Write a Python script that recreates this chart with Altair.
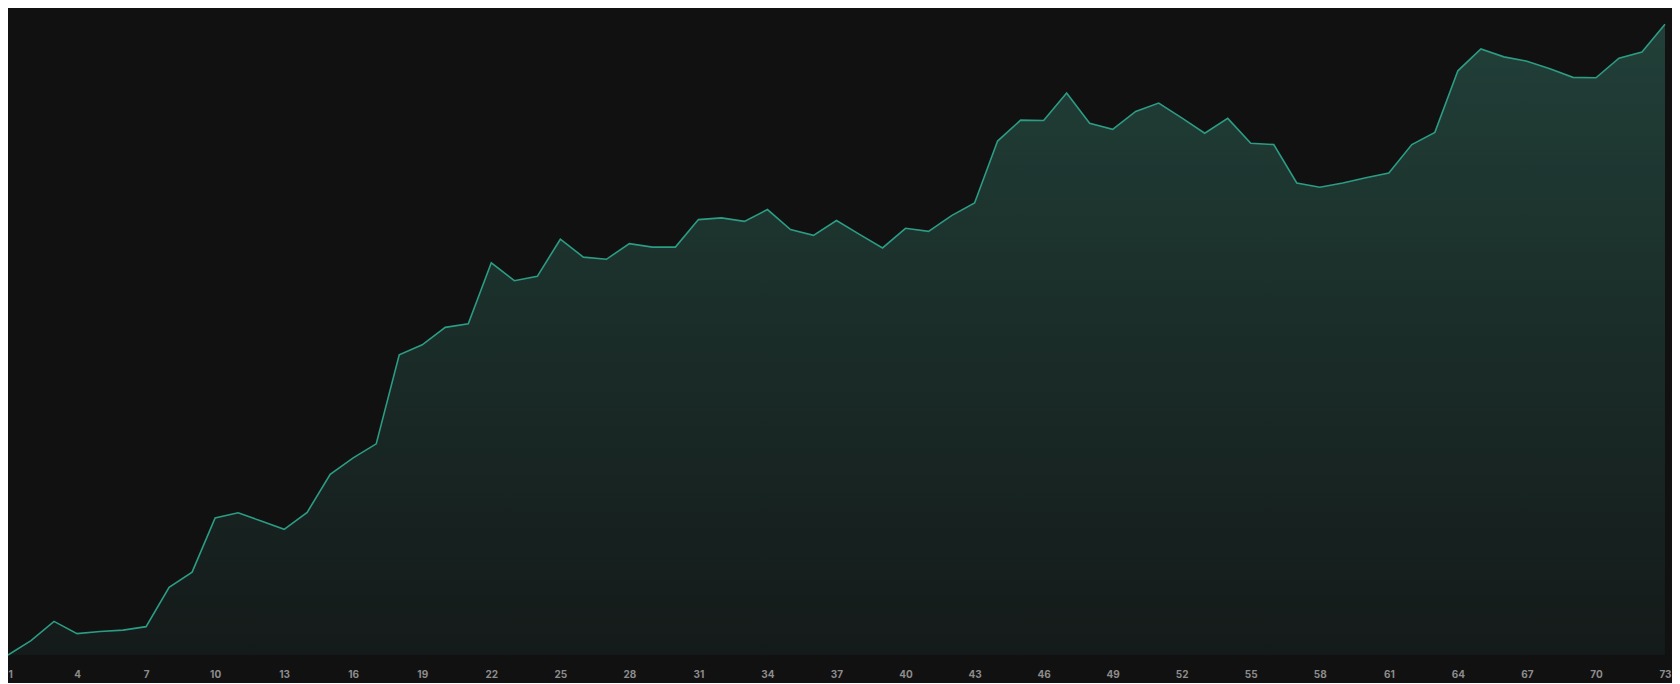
import altair as alt
import pandas as pd

steps = list(range(1, 74))
values = [
    0.0, 3.3, 7.7, 4.9, 5.4, 5.7, 6.5, 15.5, 19.0, 31.4,
    32.6, 30.7, 28.8, 32.7, 41.4, 45.2, 48.4, 68.8, 71.1, 75.1,
    75.9, 89.9, 85.8, 86.8, 95.3, 91.2, 90.7, 94.3, 93.5, 93.5,
    99.8, 100.2, 99.4, 102.1, 97.5, 96.2, 99.6, 96.4, 93.3, 97.8,
    97.1, 100.7, 103.6, 117.8, 122.6, 122.5, 128.8, 121.9, 120.5, 124.6,
    126.5, 123.1, 119.6, 123.0, 117.3, 117.0, 108.2, 107.2, 108.2, 109.4,
    110.5, 117.0, 119.8, 133.9, 138.9, 137.1, 136.1, 134.4, 132.4, 132.3,
    136.8, 138.2, 144.6,
]
tick_values = list(range(1, 74, 3))

df = pd.DataFrame({"step": steps, "value": values})

x_enc = alt.X(
    "step:Q",
    scale=alt.Scale(domain=[1, 73], nice=False, zero=False),
    axis=alt.Axis(
        values=tick_values,
        title=None,
        grid=False,
        domain=False,
        ticks=False,
        labelColor="#8c8c8c",
        labelFontSize=10,
        labelFontWeight="bold",
        labelFont="Inter",
        labelPadding=14,
        labelAlign=alt.expr("datum.value == 1 ? 'left' : 'center'"),
    ),
)
y_enc = alt.Y(
    "value:Q",
    scale=alt.Scale(domain=[0, 148.3], nice=False),
    axis=None,
)

area = alt.Chart(df).mark_area(
    line=False,
    color=alt.Gradient(
        gradient="linear",
        stops=[
            alt.GradientStop(color="#213f38", offset=0),
            alt.GradientStop(color="#141a19", offset=1),
        ],
        x1=0, x2=0, y1=0, y2=1,
    ),
).encode(x=x_enc, y=y_enc)

line = alt.Chart(df).mark_line(color="#2c9c84", strokeWidth=1.6).encode(x=x_enc, y=y_enc)

chart = (
    alt.layer(area, line)
    .properties(
        width=1657,
        height=647,
        background="#111111",
        autosize=alt.AutoSizeParams(type="none"),
        padding={"left": 0, "top": 0, "right": 7, "bottom": 28},
    )
    .configure_view(stroke=None)
)

chart.save("out.html", embed_options={"renderer": "svg", "actions": False})
